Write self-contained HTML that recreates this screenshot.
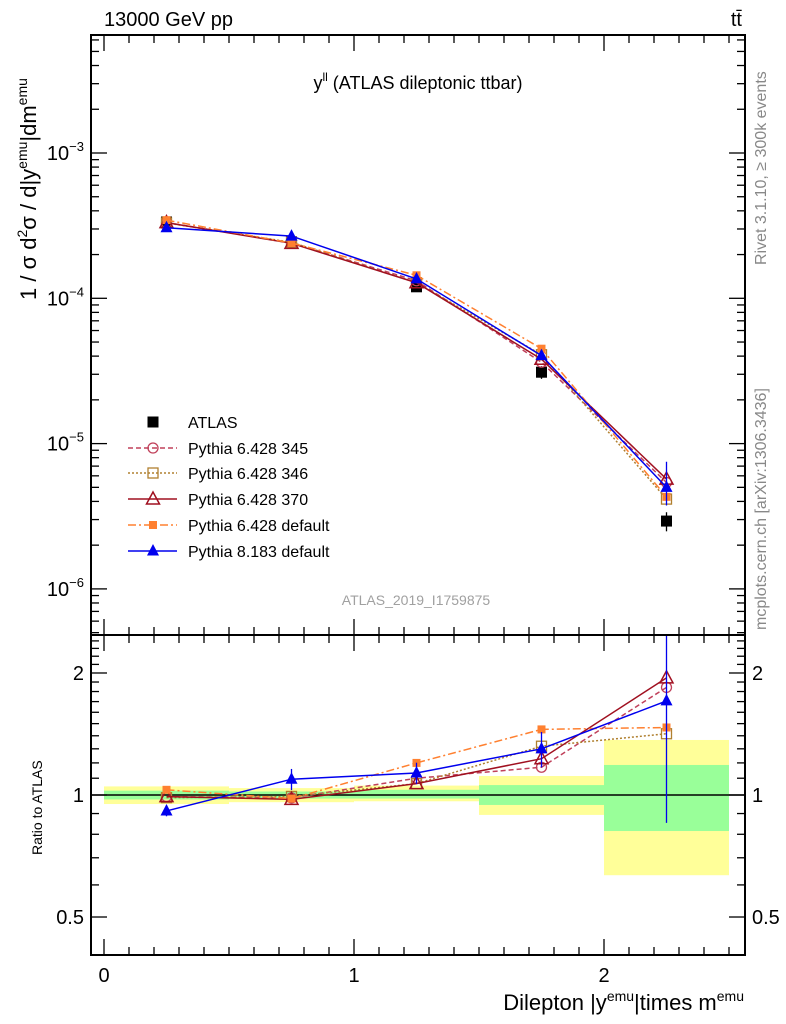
<!DOCTYPE html>
<html><head><meta charset="utf-8"><style>
body{margin:0;background:#fff;}
svg{display:block;font-family:"Liberation Sans",sans-serif;}
</style></head><body>
<svg id="c" width="786" height="1024" viewBox="0 0 786 1024" xmlns="http://www.w3.org/2000/svg">
<rect x="0" y="0" width="786" height="1024" fill="#fff"/>
<g id="bands"></g>
<g id="grid"></g>
<g id="series"></g>
<rect x="91" y="35" width="654" height="600" fill="none" stroke="#000" stroke-width="2"/>
<rect x="91" y="635" width="654" height="320" fill="none" stroke="#000" stroke-width="2"/>
<text x="104" y="26" font-size="20">13000 GeV pp</text>
<text x="742" y="26" font-size="20" text-anchor="end">tt̄</text>
<text x="418" y="89" font-size="18" text-anchor="middle">y<tspan font-size="12" dy="-8">ll</tspan><tspan dy="8"> (ATLAS dileptonic ttbar)</tspan></text>
<text x="416" y="605" font-size="14" fill="#a0a0a0" text-anchor="middle">ATLAS_2019_I1759875</text>
<text transform="translate(766,265) rotate(-90)" font-size="16" fill="#888">Rivet 3.1.10, ≥ 300k events</text>
<text transform="translate(766,630) rotate(-90)" font-size="16" fill="#888">mcplots.cern.ch [arXiv:1306.3436]</text>
<text transform="translate(36,300) rotate(-90)" font-size="22">1 / σ  d<tspan font-size="14" dy="-9">2</tspan><tspan dy="9">σ / d|y</tspan><tspan font-size="14" dy="-9">emu</tspan><tspan dy="9">|dm</tspan><tspan font-size="14" dy="-9">emu</tspan></text>
<text transform="translate(42,855) rotate(-90)" font-size="14">Ratio to ATLAS</text>
<text x="744" y="1010" font-size="22" text-anchor="end">Dilepton |y<tspan font-size="14" dy="-9">emu</tspan><tspan dy="9">|times m</tspan><tspan font-size="14" dy="-9">emu</tspan></text>
<g id="legend"></g>
</svg>
<script>
const NS="http://www.w3.org/2000/svg";
const binCenters=[0.25,0.75,1.25,1.75,2.25];
const binEdges=[0,0.5,1,1.5,2,2.5];
const dataVals=[3.35e-4,2.45e-4,1.2e-4,3.1e-5,2.93e-6];
const dataErr=[0.04,0.04,0.05,0.1,0.15];
const p345=[3.32e-4,2.41e-4,1.32e-4,3.63e-5,5.4e-6];
const p346=[3.30e-4,2.43e-4,1.28e-4,4.09e-5,4.15e-6];
const p370=[3.32e-4,2.39e-4,1.28e-4,3.81e-5,5.7e-6];
const pdef=[3.45e-4,2.40e-4,1.44e-4,4.5e-5,4.3e-6];
const p8=[3.06e-4,2.68e-4,1.36e-4,4.03e-5,5.0e-6];
const mcErr=[0.03,0.06,0.06,0.1,0.5];
const yellowLo=[0.95,0.96,0.965,0.893,0.634];
const yellowHi=[1.05,1.04,1.055,1.114,1.367];
const greenLo=[0.975,0.98,0.98,0.945,0.815];
const greenHi=[1.025,1.02,1.03,1.058,1.186];
const mainTicks=[-3,-4,-5,-6];
const ratioTicks=[0.5,1,2];
const xTicks=[0,1,2];

const X=v=>104+250*v;
const Y=v=>153-145.3*(Math.log10(v)+3);
const R=v=>795-405.3*Math.log10(v);
const RT=635,RB=955;
const clampR=y=>Math.max(RT,Math.min(RB,y));
function mk(tag,attrs,parent){const e=document.createElementNS(NS,tag);for(const k in attrs)e.setAttribute(k,attrs[k]);(parent||document.getElementById('c')).appendChild(e);return e;}

const bands=document.getElementById('bands');
for(let i=0;i<5;i++){
  const y=mk('rect',{x:X(binEdges[i]),y:R(yellowHi[i]),width:X(binEdges[i+1])-X(binEdges[i]),height:R(yellowLo[i])-R(yellowHi[i]),fill:'#ffff99'},bands);
  
  
  const g=mk('rect',{x:X(binEdges[i]),y:R(greenHi[i]),width:X(binEdges[i+1])-X(binEdges[i]),height:R(greenLo[i])-R(greenHi[i]),fill:'#99ff99'},bands);
  
  
}
const grid=document.getElementById('grid');
mk('line',{x1:91,x2:745,y1:R(1),y2:R(1),stroke:'#000','stroke-width':1.5},grid);
for(let k=0;k<=25;k++){const v=k/10;const len=k%10==0?16:8;
  [[635,1],[35,-1],[955,1],[635,-1]].forEach(([yy,d])=>mk('line',{x1:X(v),x2:X(v),y1:yy,y2:yy-d*len,stroke:'#000','stroke-width':1.3},grid));}
xTicks.forEach(v=>{const t=mk('text',{x:X(v),y:982,'font-size':20,'text-anchor':'middle'},grid);t.textContent=v;
  
  });
for(let d=-7;d<=-2;d++)for(let m=1;m<10;m++){const v=m*Math.pow(10,d);const y=Y(v);if(y<35||y>635)continue;const len=m==1?16:8;
  mk('line',{x1:91,x2:91+len,y1:y,y2:y,stroke:'#000','stroke-width':1.3},grid);mk('line',{x1:745,x2:745-len,y1:y,y2:y,stroke:'#000','stroke-width':1.3},grid);}
mainTicks.forEach(d=>{const t=mk('text',{x:84,y:Y(Math.pow(10,d))+7,'font-size':20,'text-anchor':'end'},grid);
  t.innerHTML='10<tspan font-size="13" dy="-9">'+(d<0?'−':'')+Math.abs(d)+'</tspan>';
  
  });
for(let v=0.4;v<=2.5;v+=0.1){const vv=Math.round(v*10)/10;const y=R(vv);if(y<RT||y>RB)continue;const maj=ratioTicks.includes(vv);const len=maj?16:8;
  mk('line',{x1:91,x2:91+len,y1:y,y2:y,stroke:'#000','stroke-width':1.3},grid);mk('line',{x1:745,x2:745-len,y1:y,y2:y,stroke:'#000','stroke-width':1.3},grid);}
ratioTicks.forEach(v=>{[[84,'end'],[752,'start']].forEach(([x,a])=>{const t=mk('text',{x:x,y:R(v)+7,'font-size':20,'text-anchor':a},grid);t.textContent=v;
  
  });});

function marker(g,type,x,y,col){
  if(type=='circle')mk('circle',{cx:x,cy:y,r:5,fill:'none',stroke:col,'stroke-width':1.3},g);
  else if(type=='osq')mk('rect',{x:x-5,y:y-5,width:10,height:10,fill:'none',stroke:col,'stroke-width':1.3},g);
  else if(type=='otri')mk('path',{d:`M${x} ${y-7}L${x+6.5} ${y+5}L${x-6.5} ${y+5}Z`,fill:'none',stroke:col,'stroke-width':1.5},g);
  else if(type=='sq')mk('rect',{x:x-4,y:y-4,width:8,height:8,fill:col},g);
  else if(type=='bsq')mk('rect',{x:x-5.5,y:y-5.5,width:11,height:11,fill:col},g);
  else if(type=='tri')mk('path',{d:`M${x} ${y-7}L${x+6} ${y+4.5}L${x-6} ${y+4.5}Z`,fill:col},g);
}
const series=[
 {name:'Pythia 6.428 345',vals:p345,col:'#c0405a',dash:'5,3',m:'circle',key:'p345'},
 {name:'Pythia 6.428 346',vals:p346,col:'#b08030',dash:'2,2',m:'osq',key:'p346'},
 {name:'Pythia 6.428 370',vals:p370,col:'#a01020',dash:'',m:'otri',key:'p370'},
 {name:'Pythia 6.428 default',vals:pdef,col:'#ff8030',dash:'8,3,2,3',m:'sq',key:'pdef'},
 {name:'Pythia 8.183 default',vals:p8,col:'#0000ee',dash:'',m:'tri',key:'p8'}];
const sg=document.getElementById('series');
const dg=mk('g',{},sg);


binCenters.forEach((c,i)=>{const v=dataVals[i];
  mk('line',{x1:X(c),x2:X(c),y1:Y(v*(1+dataErr[i])),y2:Y(v*(1-dataErr[i])),stroke:'#000','stroke-width':1.3},dg);
  marker(dg,'bsq',X(c),Y(v),'#000');});
series.forEach(s=>{
  const g=mk('g',{},sg);
  
  
  const attrs={fill:'none',stroke:s.col,'stroke-width':1.5};if(s.dash)attrs['stroke-dasharray']=s.dash;
  mk('polyline',Object.assign({points:binCenters.map((c,i)=>X(c)+','+Y(s.vals[i])).join(' ')},attrs),g);
  mk('polyline',Object.assign({points:binCenters.map((c,i)=>X(c)+','+R(s.vals[i]/dataVals[i])).join(' ')},attrs),g);
  binCenters.forEach((c,i)=>{const r=s.vals[i]/dataVals[i];
    if(s.key=='p8'){mk('line',{x1:X(c),x2:X(c),y1:clampR(R(r*(1+mcErr[i]))),y2:clampR(R(r*(1-mcErr[i]))),stroke:s.col,'stroke-width':1.3},g);
      mk('line',{x1:X(c),x2:X(c),y1:Y(s.vals[i]*(1+mcErr[i])),y2:Y(s.vals[i]*(1-mcErr[i]*0.5)),stroke:s.col,'stroke-width':1.3},g);}
    marker(g,s.m,X(c),Y(s.vals[i]),s.col);marker(g,s.m,X(c),R(r),s.col);});
});
const lg=document.getElementById('legend');
const rows=[422,448,473,499,525,551];
marker(lg,'bsq',153,rows[0],'#000');
let t0=mk('text',{x:188,y:rows[0]+6,'font-size':16},lg);t0.textContent='ATLAS';
series.forEach((s,i)=>{const y=rows[i+1];const at={x1:128,x2:177,y1:y,y2:y,stroke:s.col,'stroke-width':1.5};if(s.dash)at['stroke-dasharray']=s.dash;
  mk('line',at,lg);marker(lg,s.m,153,y,s.col);
  const t=mk('text',{x:188,y:y+6,'font-size':16},lg);t.textContent=s.name;
  
  });
</script>
</body></html>
